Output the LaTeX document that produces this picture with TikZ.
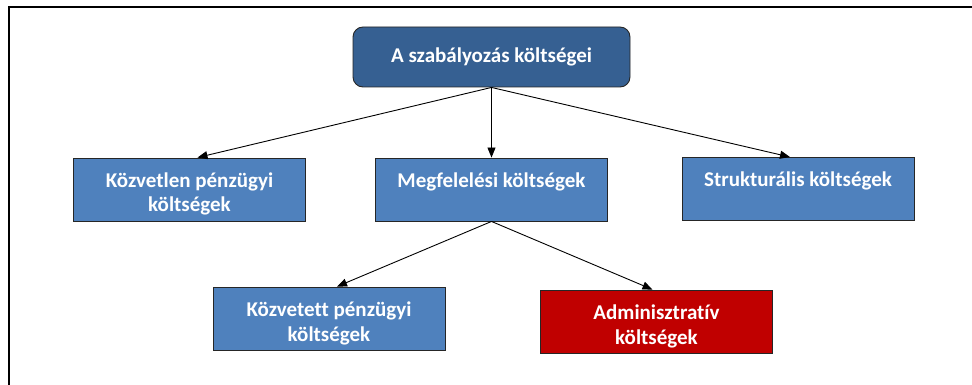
\documentclass[tikz,border=0pt]{standalone}
\usepackage{fontspec}
\setmainfont{Carlito}[Ligatures=NoCommon]
\usetikzlibrary{arrows.meta}

\definecolor{headblue}{RGB}{54,96,146}
\definecolor{costblue}{RGB}{79,129,189}
\definecolor{costred}{RGB}{192,0,0}

\newcommand{\boxtxt}[1]{\parbox[c][63pt][t]{225pt}{\centering\rule{0pt}{29pt}#1}}

\tikzset{
  costbox/.style={draw=black!85,line width=0.9pt,fill=costblue,text=white,
    font=\bfseries\fontsize{21}{25}\selectfont,inner sep=0pt,
    minimum width=232pt,minimum height=63pt},
  link/.style={-{Triangle[length=10pt,width=8pt]},line width=0.9pt}
}

\begin{document}
\begin{tikzpicture}[x=1pt,y=-1pt]
   \useasboundingbox (0,0) rectangle (972,385);
   \draw[line width=1.5pt] (9,385) -- (9,7) -- (972,7);

   \node[costbox,fill=headblue,rounded corners=10pt,minimum width=277pt,minimum height=60pt] (head) at (491.5,57) {A szabályozás költségei};

   \node[costbox] (direct) at (189.5,189.5) {\boxtxt{Közvetlen pénzügyi\\ költségek}};
   \node[costbox] (comply) at (491.5,189.5) {\boxtxt{Megfelelési költségek}};
   \node[costbox] (struct) at (798,189) {\boxtxt{Strukturális költségek}};
   \node[costbox] (indirect) at (329,318.5) {\boxtxt{Közvetett pénzügyi\\ költségek}};
   \node[costbox,fill=costred] (admin) at (656.5,321.5) {\boxtxt{Adminisztratív\\ költségek}};

   \draw[link] (head.south) -- ([xshift=8pt]direct.north);
   \draw[link] (head.south) -- (comply.north);
   \draw[link] (head.south) -- ([xshift=-8pt]struct.north);
   \draw[link] (comply.south) -- ([xshift=8pt]indirect.north);
   \draw[link] (comply.south) -- ([xshift=-4pt]admin.north);
\end{tikzpicture}
\end{document}
